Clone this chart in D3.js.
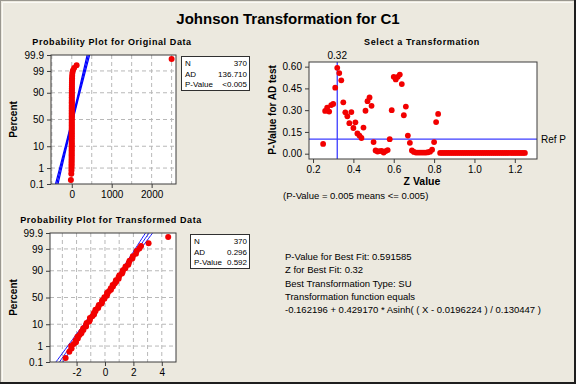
<!DOCTYPE html>
<html>
<head>
<meta charset="utf-8">
<script src="https://cdn.jsdelivr.net/npm/d3@7"></script>
<style>
  body { margin: 0; background: #ece9df; }
  svg text { font-family: "Liberation Sans", Arial, sans-serif; fill: #000; }
</style>
</head>
<body>
<svg id="chart" width="576" height="384"></svg>
<script>
// ---- data ----
var pctTicks = [0.1, 1, 10, 50, 90, 99, 99.9];
var pctLabels = ["0.1", "1", "10", "50", "90", "99", "99.9"];

// plotting positions (percent) shared by both probability plots
var plotPct = [0.19, 0.46, 0.73, 1.0, 1.3, 1.6, 2.0, 2.5, 3.0, 3.6, 4.3, 5.0, 6, 7, 8.2, 9.5,
  11, 12.6, 14.4, 16.3, 18.4, 20.6, 23, 25.5, 28, 30.6, 33.3, 36, 38.8, 41.6, 44.5, 47.4,
  50.3, 53.2, 56, 58.9, 61.8, 64.6, 67.3, 70, 72.5, 75, 77.4, 79.6, 81.7, 83.7, 85.6, 87.4,
  89, 90.5, 91.9, 93.1, 94.2, 95.2, 96.1, 96.9, 97.6, 98.2, 98.7, 99.05, 99.33, 99.54, 99.81];

var origValues = [-22, -12, -8, -6, -5, -4.5, -4, -3.5, -3, -2.7, -2.4, -2.1, -1.8, -1.6, -1.4, -1.2,
  -1.0, -0.8, -0.7, -0.6, -0.5, -0.4, -0.3, -0.25, -0.2, -0.15, -0.1, -0.06, -0.03, 0, 0.02, 0.04,
  0.06, 0.08, 0.1, 0.13, 0.16, 0.2, 0.25, 0.3, 0.36, 0.43, 0.5, 0.6, 0.7, 0.8, 1.0, 1.2,
  1.4, 1.7, 2.0, 2.4, 2.9, 3.5, 4.2, 5.5, 7, 10, 16, 29, 58, 121, 2500];

var transValues = [-2.77, -2.51, -2.35, -2.38, -2.20, -2.04, -2.06, -1.91, -1.94, -1.79, -1.66, -1.66, -1.52, -1.53, -1.33, -1.33,
  -1.29, -1.11, -1.06, -1.06, -0.89, -0.77, -0.78, -0.67, -0.67, -0.48, -0.46, -0.43, -0.24, -0.21, -0.20, -0.04,
  -0.04, 0.12, 0.16, 0.15, 0.28, 0.42, 0.41, 0.56, 0.54, 0.69, 0.79, 0.77, 0.96, 0.96, 1.02, 1.20,
  1.24, 1.26, 1.43, 1.45, 1.64, 1.68, 1.73, 1.93, 1.96, 2.18, 2.23, 2.42, 2.54, 3.07, 4.45];

// fitted normal lines and 95% band half-widths (in sd units) at a few z values
var origFit = { mean: 20, sd: 128 };
var transFit = { mean: -0.05, sd: 1.02 };
var ciZ = [-3.09, -2, -1, 0, 1, 2, 3.09];
var ciHalf = [0.245, 0.176, 0.125, 0.102, 0.125, 0.176, 0.245];

var origStats = [["N", "370"], ["AD", "136.710"], ["P-Value", "<0.005"]];
var transStats = [["N", "370"], ["AD", "0.296"], ["P-Value", "0.592"]];

// Z values tried and the AD p-value for each
var zValues = [0.25, 0.26, 0.27, 0.28, 0.29, 0.30, 0.31, 0.32, 0.33, 0.34, 0.35, 0.36, 0.37, 0.38, 0.39, 0.40,
  0.41, 0.42, 0.43, 0.44, 0.45, 0.46, 0.47, 0.48, 0.49, 0.50, 0.51, 0.52, 0.53, 0.54, 0.55, 0.56,
  0.57, 0.58, 0.59, 0.60, 0.61, 0.62, 0.63, 0.64, 0.65, 0.66, 0.67, 0.68, 0.69, 0.70, 0.71, 0.72,
  0.73, 0.74, 0.75, 0.76, 0.77, 0.78, 0.79, 0.80, 0.81, 0.82, 0.83, 0.84, 0.85, 0.86, 0.87, 0.88,
  0.89, 0.90, 0.91, 0.92, 0.93, 0.94, 0.95, 0.96, 0.97, 0.98, 0.99, 1.00, 1.01, 1.02, 1.03, 1.04,
  1.05, 1.06, 1.07, 1.08, 1.09, 1.10, 1.11, 1.12, 1.13, 1.14, 1.15, 1.16, 1.17, 1.18, 1.19, 1.20,
  1.21, 1.22, 1.23, 1.24, 1.25];
var pValues = [0.067, 0.295, 0.318, 0.290, 0.335, 0.343, 0.455, 0.592, 0.556, 0.506, 0.354, 0.285, 0.258, 0.210, 0.287, 0.177,
  0.216, 0.140, 0.125, 0.108, 0.180, 0.296, 0.362, 0.388, 0.330, 0.080, 0.022, 0.015, 0.018, 0.020, 0.008, 0.018,
  0.025, 0.100, 0.300, 0.530, 0.512, 0.530, 0.545, 0.480, 0.265, 0.325, 0.125, 0.075, 0.022, 0.012, 0.008, 0.008,
  0.008, 0.008, 0.008, 0.008, 0.010, 0.014, 0.028, 0.080, 0.218, 0.274, 0.005, 0.005, 0.005, 0.005, 0.005, 0.005,
  0.005, 0.005, 0.005, 0.005, 0.005, 0.005, 0.005, 0.005, 0.005, 0.005, 0.005, 0.005, 0.005, 0.005, 0.005, 0.005,
  0.005, 0.005, 0.005, 0.005, 0.005, 0.005, 0.005, 0.005, 0.005, 0.005, 0.005, 0.005, 0.005, 0.005, 0.005, 0.005,
  0.005, 0.005, 0.005, 0.005, 0.005];
var bestZ = 0.32;
var refP = 0.1;

var fitLines = [
  "P-Value for Best Fit: 0.591585",
  "Z for Best Fit: 0.32",
  "Best Transformation Type: SU",
  "Transformation function equals",
  "-0.162196 + 0.429170 * Asinh( ( X - 0.0196224 ) / 0.130447 )"
];

// inverse normal cdf (Acklam) used for the percent axis
function probit(p) {
  var a = [-3.969683028665376e+01, 2.209460984245205e+02, -2.759285104469687e+02, 1.383577518672690e+02, -3.066479806614716e+01, 2.506628277459239e+00];
  var b = [-5.447609879822406e+01, 1.615858368580409e+02, -1.556989798598866e+02, 6.680131188771972e+01, -1.328068155288572e+01];
  var c = [-7.784894002430293e-03, -3.223964580411365e-01, -2.400758277161838e+00, -2.549732539343734e+00, 4.374664141464968e+00, 2.938163982698783e+00];
  var d = [7.784695709041462e-03, 3.224671290700398e-01, 2.445134137142996e+00, 3.754408661907416e+00];
  var pl = 0.02425, q, r;
  if (p < pl) {
    q = Math.sqrt(-2 * Math.log(p));
    return (((((c[0] * q + c[1]) * q + c[2]) * q + c[3]) * q + c[4]) * q + c[5]) / ((((d[0] * q + d[1]) * q + d[2]) * q + d[3]) * q + 1);
  }
  if (p > 1 - pl) {
    q = Math.sqrt(-2 * Math.log(1 - p));
    return -(((((c[0] * q + c[1]) * q + c[2]) * q + c[3]) * q + c[4]) * q + c[5]) / ((((d[0] * q + d[1]) * q + d[2]) * q + d[3]) * q + 1);
  }
  q = p - 0.5; r = q * q;
  return (((((a[0] * r + a[1]) * r + a[2]) * r + a[3]) * r + a[4]) * r + a[5]) * q / (((((b[0] * r + b[1]) * r + b[2]) * r + b[3]) * r + b[4]) * r + 1);
}

var svg = d3.select("#chart");
var RED = "#f20000", BLUE = "#0000ff";

// outer frame
svg.append("rect").attr("x", 0.5).attr("y", 0.5).attr("width", 574).attr("height", 382)
  .attr("fill", "#ece9df").attr("stroke", "#9a978f");
svg.append("path").attr("d", "M2.5,380.5V2.5H572.5").attr("fill", "none").attr("stroke", "#fbfaf6");
svg.append("path").attr("d", "M575,0V383H0").attr("fill", "none").attr("stroke", "#1e1e1e").attr("stroke-width", 2);

svg.append("text").attr("x", 288).attr("y", 24).attr("text-anchor", "middle")
  .style("font-size", "15px").style("font-weight", "bold").text("Johnson Transformation for C1");

function probPlot(o) {
  var g = svg.append("g");
  var x = d3.scaleLinear().domain(o.xDomain).range([o.left, o.right]);
  var y = d3.scaleLinear().domain([probit(0.001), probit(0.999)]).range([o.bottom, o.top]);
  var clipId = "clip" + o.id;
  g.append("clipPath").attr("id", clipId).append("rect")
    .attr("x", o.left).attr("y", o.top).attr("width", o.right - o.left).attr("height", o.bottom - o.top);
  g.append("rect").attr("x", o.left).attr("y", o.top).attr("width", o.right - o.left)
    .attr("height", o.bottom - o.top).attr("fill", "#fff");

  g.selectAll(".vg").data(o.xGrid).enter().append("line")
    .attr("x1", function (d) { return x(d); }).attr("x2", function (d) { return x(d); })
    .attr("y1", o.top).attr("y2", o.bottom)
    .attr("stroke", "#b8b8b8").attr("stroke-dasharray", "4,3");
  g.selectAll(".hg").data(pctTicks.slice(1, -1)).enter().append("line")
    .attr("y1", function (d) { return y(probit(d / 100)); }).attr("y2", function (d) { return y(probit(d / 100)); })
    .attr("x1", o.left).attr("x2", o.right)
    .attr("stroke", "#b8b8b8").attr("stroke-dasharray", "4,3");

  var plot = g.append("g").attr("clip-path", "url(#" + clipId + ")");
  [-1, 0, 1].forEach(function (k) {
    var line = d3.line()
      .x(function (z, i) { return x(o.fit.mean + o.fit.sd * (z + k * ciHalf[i])); })
      .y(function (z) { return y(z); })
      .curve(d3.curveCatmullRom);
    plot.append("path").attr("d", line(ciZ)).attr("fill", "none")
      .attr("stroke", BLUE).attr("stroke-width", o.lineW);
  });
  plot.selectAll("circle").data(o.values).enter().append("circle")
    .attr("cx", function (d) { return x(d); })
    .attr("cy", function (d, i) { return y(probit(plotPct[i] / 100)); })
    .attr("r", 3).attr("fill", RED);

  g.append("rect").attr("x", o.left).attr("y", o.top).attr("width", o.right - o.left)
    .attr("height", o.bottom - o.top).attr("fill", "none").attr("stroke", "#3c3c3c");

  var ya = g.append("g").attr("transform", "translate(" + o.left + ",0)")
    .call(d3.axisLeft(y).tickValues(pctTicks.map(function (p) { return probit(p / 100); }))
      .tickFormat(function (d, i) { return pctLabels[i]; }).tickSize(4).tickSizeOuter(0));
  var xa = g.append("g").attr("transform", "translate(0," + o.bottom + ")")
    .call(d3.axisBottom(x).tickValues(o.xTicks).tickFormat(d3.format("d")).tickSize(4).tickSizeOuter(0));
  [ya, xa].forEach(function (a) {
    a.select(".domain").remove();
    a.selectAll("line").attr("stroke", "#3c3c3c");
    a.selectAll("text").style("font-size", "10px").style("font-family", null);
  });
  xa.selectAll("text").text(function (d) { return d < 0 ? "-" + Math.abs(d) : d; });

  g.append("text").attr("x", o.titleX).attr("y", o.top - 10).attr("text-anchor", "middle")
    .style("font-size", "9px").style("font-weight", "bold").style("letter-spacing", "0.6px").text(o.title);
  g.append("text").attr("transform", "translate(17," + ((o.top + o.bottom) / 2) + ") rotate(-90)")
    .attr("text-anchor", "middle").style("font-size", "10px").style("font-weight", "bold").text("Percent");

  var b = o.box;
  g.append("rect").attr("x", b.x + 0.5).attr("y", b.y + 0.5).attr("width", b.w).attr("height", 34)
    .attr("fill", "#fff").attr("stroke", "#303030");
  o.stats.forEach(function (s, i) {
    g.append("text").attr("x", b.x + 4).attr("y", b.y + 10 + i * 10.5).style("font-size", "8px").text(s[0]);
    g.append("text").attr("x", b.x + b.w - 2).attr("y", b.y + 10 + i * 10.5).attr("text-anchor", "end")
      .style("font-size", "8px").text(s[1]);
  });
}

probPlot({
  id: "o", left: 51, right: 176, top: 55, bottom: 184,
  xDomain: [-520, 2610], xTicks: [0, 1000, 2000], xGrid: [-500, 0, 500, 1000, 1500, 2000, 2500],
  values: origValues, fit: origFit, lineW: 1.2,
  title: "Probability Plot for Original Data", titleX: 112,
  stats: origStats, box: { x: 181, y: 56, w: 68 }
});
probPlot({
  id: "t", left: 50, right: 176, top: 233, bottom: 362,
  xDomain: [-3.87, 5.0], xTicks: [-2, 0, 2, 4], xGrid: [-3, -2, -1, 0, 1, 2, 3, 4],
  values: transValues, fit: transFit, lineW: 0.9,
  title: "Probability Plot for Transformed Data", titleX: 111,
  stats: transStats, box: { x: 190, y: 234, w: 59 }
});

// ---- Select a Transformation ----
var L = 309, R = 537, T = 62, B = 159;
var xs = d3.scaleLinear().domain([0.18, 1.31]).range([L, R]);
var ys = d3.scaleLinear().domain([-0.0366, 0.632]).range([B, T]);
var st = svg.append("g");
st.append("rect").attr("x", L).attr("y", T).attr("width", R - L).attr("height", B - T).attr("fill", "#fff");
st.append("line").attr("x1", L).attr("x2", R).attr("y1", ys(refP)).attr("y2", ys(refP))
  .attr("stroke", "#3c3cff").attr("stroke-width", 1.3);
st.append("line").attr("x1", xs(bestZ)).attr("x2", xs(bestZ)).attr("y1", T).attr("y2", B)
  .attr("stroke", "#3c3cff").attr("stroke-width", 1.3);
st.selectAll("circle").data(zValues).enter().append("circle")
  .attr("cx", function (d) { return xs(d); })
  .attr("cy", function (d, i) { return ys(pValues[i]); })
  .attr("r", 2.9).attr("fill", RED);
st.append("rect").attr("x", L).attr("y", T).attr("width", R - L).attr("height", B - T)
  .attr("fill", "none").attr("stroke", "#3c3c3c");

var sxa = st.append("g").attr("transform", "translate(0," + B + ")")
  .call(d3.axisBottom(xs).tickValues([0.2, 0.4, 0.6, 0.8, 1.0, 1.2]).tickFormat(d3.format(".1f")).tickSize(4).tickSizeOuter(0));
var sya = st.append("g").attr("transform", "translate(" + L + ",0)")
  .call(d3.axisLeft(ys).tickValues([0, 0.15, 0.3, 0.45, 0.6]).tickFormat(d3.format(".2f")).tickSize(4).tickSizeOuter(0));
[sxa, sya].forEach(function (a) {
  a.select(".domain").remove();
  a.selectAll("line").attr("stroke", "#3c3c3c");
  a.selectAll("text").style("font-size", "10px").style("font-family", null);
});

st.append("text").attr("x", 422).attr("y", 45).attr("text-anchor", "middle")
  .style("font-size", "9px").style("font-weight", "bold").style("letter-spacing", "0.6px").text("Select a Transformation");
st.append("text").attr("x", xs(bestZ)).attr("y", 59).attr("text-anchor", "middle")
  .style("font-size", "10px").text(bestZ.toFixed(2));
st.append("text").attr("x", 541).attr("y", ys(refP) + 3.5).style("font-size", "10px").text("Ref P");
st.append("text").attr("transform", "translate(276,110) rotate(-90)").attr("text-anchor", "middle")
  .style("font-size", "10px").style("font-weight", "bold").text("P-Value for AD test");
st.append("text").attr("x", 422).attr("y", 184.5).attr("text-anchor", "middle")
  .style("font-size", "10.5px").style("font-weight", "bold").text("Z Value");
st.append("text").attr("x", 283).attr("y", 199).style("font-size", "9.5px")
  .text("(P-Value = 0.005 means <= 0.005)");

// ---- best fit summary ----
fitLines.forEach(function (s, i) {
  svg.append("text").attr("x", 285).attr("y", 260 + i * 13.3).style("font-size", "9.5px").text(s);
});
</script>
</body>
</html>
